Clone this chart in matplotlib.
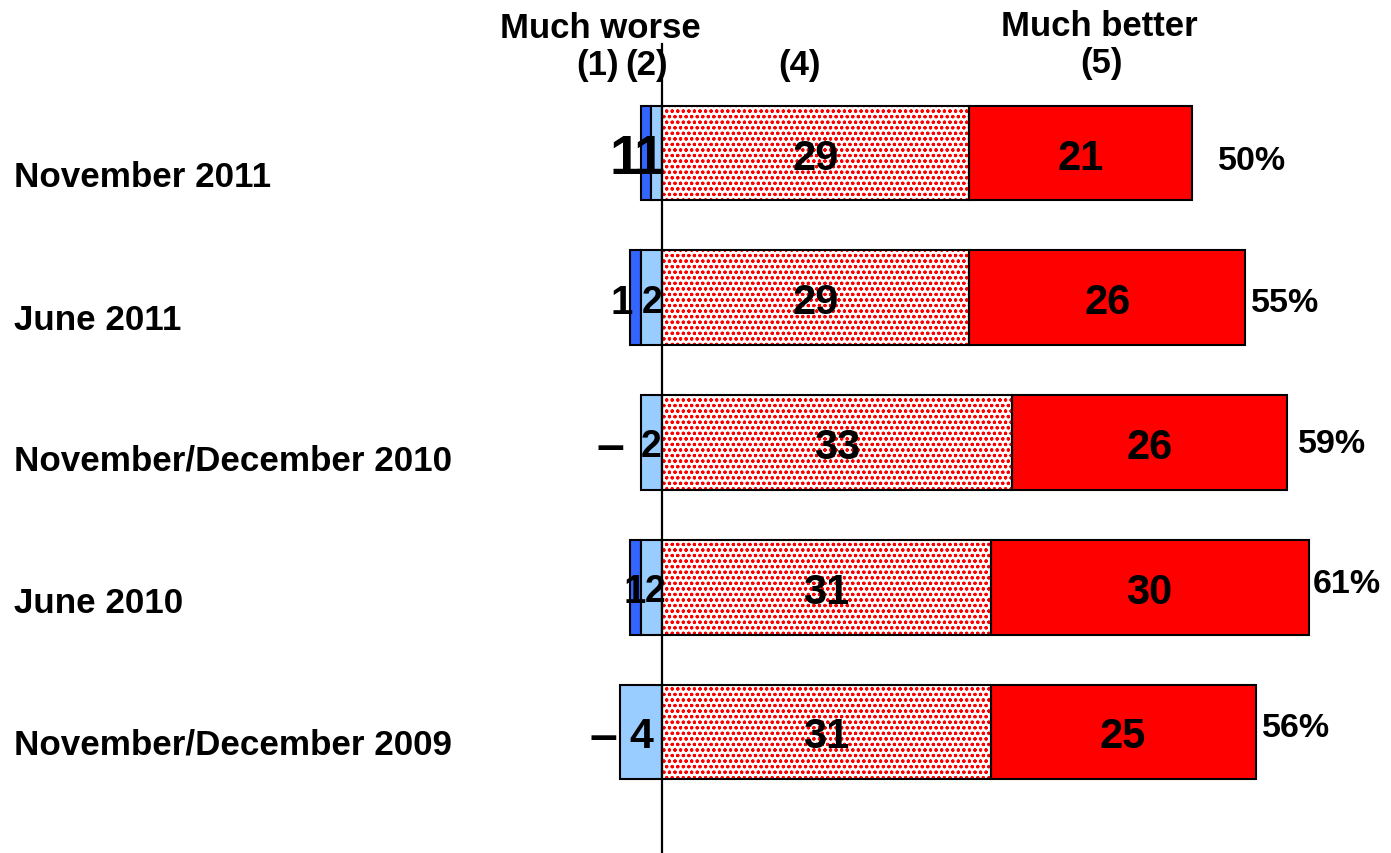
import matplotlib
matplotlib.use("Agg")
import matplotlib.pyplot as plt

plt.rcParams['font.family'] = ['Liberation Sans', 'DejaVu Sans']
plt.rcParams['font.weight'] = 'bold'
plt.rcParams['hatch.linewidth'] = 0.8

# Survey waves and answer shares (percent)
categories = ["November 2011", "June 2011", "November/December 2010",
              "June 2010", "November/December 2009"]
much_worse = [1, 1, 0, 1, 0]      # (1)
worse = [1, 2, 2, 2, 4]           # (2)
better = [29, 29, 33, 31, 31]     # (4)
much_better = [21, 26, 26, 30, 25]  # (5)

# Layout helpers (pixel geometry of the figure)
W, H = 1391, 854
PX_PER_UNIT = 10.6
ZERO_PX = 662
BAR_Y0_PX, BAR_STEP_PX = 154, 144.75

def y_of(px):
    return (px - BAR_Y0_PX) / BAR_STEP_PX

def x_of(px):
    return (px - ZERO_PX) / PX_PER_UNIT

fig = plt.figure(figsize=(W / 100, H / 100), dpi=100)
ax = fig.add_axes([0, 0, 1, 1])
ax.set_xlim(x_of(0), x_of(W))
ax.set_ylim(y_of(H), y_of(0))
ax.axis('off')

rows = list(range(len(categories)))
height = 0.656
edge = dict(edgecolor='black', linewidth=1.5)

# Negative side: "much worse" sits outside "worse"
mw_rows = [i for i in rows if much_worse[i] > 0]
ax.barh(mw_rows, [much_worse[i] for i in mw_rows],
        left=[-(much_worse[i] + worse[i]) for i in mw_rows],
        height=height, color='#3366FF', zorder=2, **edge)
ax.barh(rows, worse, left=[-w for w in worse], height=height,
        color='#99CCFF', zorder=2, **edge)

# Positive side: dotted "better", solid "much better"
ax.barh(rows, better, left=0, height=height, color='white',
        edgecolor='#FF0000', linewidth=0, hatch='ooo...', zorder=2)
ax.barh(rows, better, left=0, height=height, fill=False, zorder=3, **edge)
ax.barh(rows, much_better, left=better, height=height, color='#FF0000',
        zorder=2, **edge)

# Zero reference line
ax.axvline(0, ymin=0, ymax=1 - 45 / H, color='black', linewidth=1.6, zorder=4)

# Value labels inside the positive segments
for i in rows:
    ax.text(better[i] / 2, i, str(better[i]), ha='center',
            va='center_baseline', fontsize=30, zorder=5)
    ax.text(better[i] + much_better[i] / 2, i, str(much_better[i]),
            ha='center', va='center_baseline', fontsize=30, zorder=5)

# Labels on the negative side
mw_label_px = [625, 622, 610, 635, 603]
mw_label_size = [40, 29, 36, 29, 36]
w_label_px = [649, 652, 651, 655, 641]
w_label_size = [40, 27, 27, 27, 31]
for i in rows:
    txt = str(much_worse[i]) if much_worse[i] else "\u2013"
    ax.text(x_of(mw_label_px[i]), i, txt, ha='center', va='center_baseline',
            fontsize=mw_label_size[i], zorder=5)
    ax.text(x_of(w_label_px[i]), i, str(worse[i]), ha='center',
            va='center_baseline', fontsize=w_label_size[i], zorder=5)

# Net "better" totals to the right of each bar
pct_gap_px = [26, 6, 11, 4, 6]
pct_dy_px = [4.5, 1, -2, -7, -8]
for i in rows:
    total = better[i] + much_better[i]
    ax.annotate(f"{total}%", xy=(total, i), xytext=(pct_gap_px[i], -pct_dy_px[i]),
                textcoords='offset pixels', ha='left', va='center_baseline',
                fontsize=24.5)

# Category labels on the left
cat_baseline_px = [187, 330, 471, 613, 755]
ytrans = ax.get_yaxis_transform()
for i, name in enumerate(categories):
    ax.text(14 / W, y_of(cat_baseline_px[i]), name, transform=ytrans,
            ha='left', va='baseline', fontsize=25.2)

# Column headers
ax.text(x_of(600), y_of(29), "Much worse", ha='center', va='center', fontsize=25)
ax.text(x_of(598), y_of(66), "(1)", ha='center', va='center', fontsize=25)
ax.text(x_of(647), y_of(66), "(2)", ha='center', va='center', fontsize=25)
ax.text(x_of(800), y_of(65), "(4)", ha='center', va='center', fontsize=25)
ax.text(x_of(1099), y_of(26), "Much better", ha='center', va='center', fontsize=25)
ax.text(x_of(1102), y_of(64), "(5)", ha='center', va='center', fontsize=25)

fig.savefig("out.png", dpi=100)
